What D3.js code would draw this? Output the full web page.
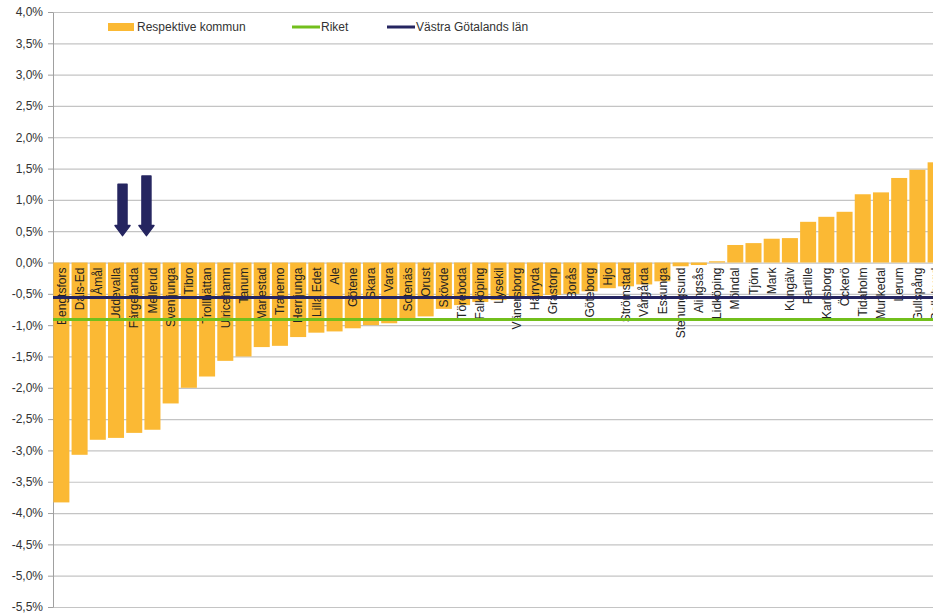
<!DOCTYPE html>
<html>
<head>
<meta charset="utf-8">
<script src="https://cdn.jsdelivr.net/npm/d3@7"></script>
<style>
  body { margin: 0; background: #fff; }
  svg { display: block; font-family: "Liberation Sans", Arial, sans-serif; }
  .grid line { stroke: #c4c4c4; stroke-width: 1.2; }
  .grid .domain { display: none; }
  .y.axis text { fill: #333; font-size: 12px; }
  .y.axis line, .y.axis .domain { stroke: #a0a0a0; }
  .bar-label { fill: #222; font-size: 12px; }
  .legend text { fill: #333; font-size: 12px; }
</style>
</head>
<body>
<div id="chart"></div>
<script>
var kommuner = ["Bengtsfors", "Dals-Ed", "Åmål", "Uddevalla", "Färgelanda", "Mellerud", "Svenljunga", "Tibro",
  "Trollhättan", "Ulricehamn", "Tanum", "Mariestad", "Tranemo", "Herrljunga", "Lilla Edet", "Ale", "Götene",
  "Skara", "Vara", "Sotenäs", "Orust", "Skövde", "Töreboda", "Falköping", "Lysekil", "Vänersborg", "Härryda",
  "Grästorp", "Borås", "Göteborg", "Hjo", "Strömstad", "Vårgårda", "Essunga", "Stenungsund", "Alingsås",
  "Lidköping", "Mölndal", "Tjörn", "Mark", "Kungälv", "Partille", "Karlsborg", "Öckerö", "Tidaholm",
  "Munkedal", "Lerum", "Gullspång", "Bollebygd"];

// förändring i procent per kommun
var kommunValues = [-3.83, -3.07, -2.83, -2.80, -2.72, -2.67, -2.25, -2.00,
  -1.82, -1.57, -1.50, -1.35, -1.33, -1.19, -1.12, -1.10, -1.05,
  -1.00, -0.97, -0.90, -0.86, -0.74, -0.68, -0.63, -0.60, -0.58, -0.55,
  -0.52, -0.50, -0.46, -0.41, -0.38, -0.35, -0.30, -0.06, -0.04,
  0.02, 0.28, 0.31, 0.38, 0.39, 0.65, 0.73, 0.81, 1.09,
  1.12, 1.35, 1.48, 1.60];

var riket = -0.91;
var vastraGotaland = -0.56;

var yTicks = [4.0, 3.5, 3.0, 2.5, 2.0, 1.5, 1.0, 0.5, 0.0, -0.5, -1.0, -1.5, -2.0, -2.5, -3.0, -3.5, -4.0, -4.5, -5.0, -5.5];

var legendItems = ["Respektive kommun", "Riket", "Västra Götalands län"];

// markerade kommuner (pilar)
var arrowKommuner = ["Uddevalla", "Mellerud"];

var width = 933, height = 614;
var margin = {top: 12, left: 53, bottom: 7};
var plotRight = 944;

var colors = {bar: "#fbb934", riket: "#72bf1c", lan: "#252560"};

var svg = d3.select("#chart").append("svg")
    .attr("width", width)
    .attr("height", height);

var x = d3.scaleBand()
    .domain(kommuner)
    .range([margin.left, plotRight])
    .paddingInner(0.12)
    .paddingOuter(0.02);

var y = d3.scaleLinear()
    .domain([-5.5, 4.0])
    .range([height - margin.bottom, margin.top]);

var se = d3.formatLocale({decimal: ",", thousands: " ", grouping: [3], currency: ["", " kr"], minus: "-"});
var pct = function(d) { return se.format(".1f")(d) + "%"; };

//grid
svg.append("g")
    .attr("class", "grid")
    .attr("transform", "translate(" + margin.left + ",0)")
    .call(d3.axisLeft(y).tickValues(yTicks).tickSize(-(width - margin.left)).tickFormat(""));

//y axis
svg.append("g")
    .attr("class", "y axis")
    .attr("transform", "translate(" + margin.left + ",0)")
    .call(d3.axisLeft(y).tickValues(yTicks).tickSize(5).tickSizeOuter(0).tickPadding(5).tickFormat(pct));

//bars
svg.selectAll(".bar")
    .data(kommunValues)
    .enter().append("rect")
    .attr("class", "bar")
    .attr("x", function(d, i) { return x(kommuner[i]); })
    .attr("width", x.bandwidth())
    .attr("y", function(d) { return y(Math.max(0, d)); })
    .attr("height", function(d) { return Math.abs(y(d) - y(0)); })
    .attr("fill", colors.bar);

//category labels
svg.selectAll(".bar-label")
    .data(kommuner)
    .enter().append("text")
    .attr("class", "bar-label")
    .attr("text-anchor", "end")
    .attr("transform", function(d) {
      return "translate(" + (x(d) + x.bandwidth() / 2) + "," + (y(0) + 5) + ") rotate(-90)";
    })
    .attr("dy", "0.35em")
    .text(function(d) { return d; });

//reference lines
[[riket, colors.riket], [vastraGotaland, colors.lan]].forEach(function(l) {
  svg.append("line")
      .attr("x1", margin.left).attr("x2", width)
      .attr("y1", y(l[0])).attr("y2", y(l[0]))
      .attr("stroke", l[1])
      .attr("stroke-width", 3);
});

//arrows
var arrowOffsets = [6.5, -6];
var arrowTops = [1.25, 1.38];
arrowKommuner.forEach(function(k, i) {
  var cx = x(k) + x.bandwidth() / 2 + arrowOffsets[i];
  var top = y(arrowTops[i]), tip = y(0.43), headTop = tip - 10;
  svg.append("path")
      .attr("d", "M" + (cx - 4.5) + "," + top + " L" + (cx + 4.5) + "," + top +
                 " L" + (cx + 4.5) + "," + headTop + " L" + (cx + 7.5) + "," + headTop +
                 " L" + cx + "," + tip + " L" + (cx - 7.5) + "," + headTop +
                 " L" + (cx - 4.5) + "," + headTop + "Z")
      .attr("fill", colors.lan)
      .attr("stroke", colors.lan)
      .attr("stroke-width", 1.5)
      .attr("stroke-linejoin", "round");
});

//legend
var legend = svg.append("g").attr("class", "legend");
var legendX = [107, 292, 387];
legendItems.forEach(function(name, i) {
  var g = legend.append("g").attr("transform", "translate(" + legendX[i] + ",27)");
  if (i === 0) {
    g.append("rect").attr("x", 1).attr("y", -4).attr("width", 26).attr("height", 8).attr("fill", colors.bar);
  } else {
    g.append("line").attr("x1", 0).attr("x2", 28).attr("y1", 0).attr("y2", 0)
        .attr("stroke", i === 1 ? colors.riket : colors.lan).attr("stroke-width", 3);
  }
  g.append("text").attr("x", i === 0 ? 30 : 29).attr("dy", "0.35em").text(name);
});
</script>
</body>
</html>
